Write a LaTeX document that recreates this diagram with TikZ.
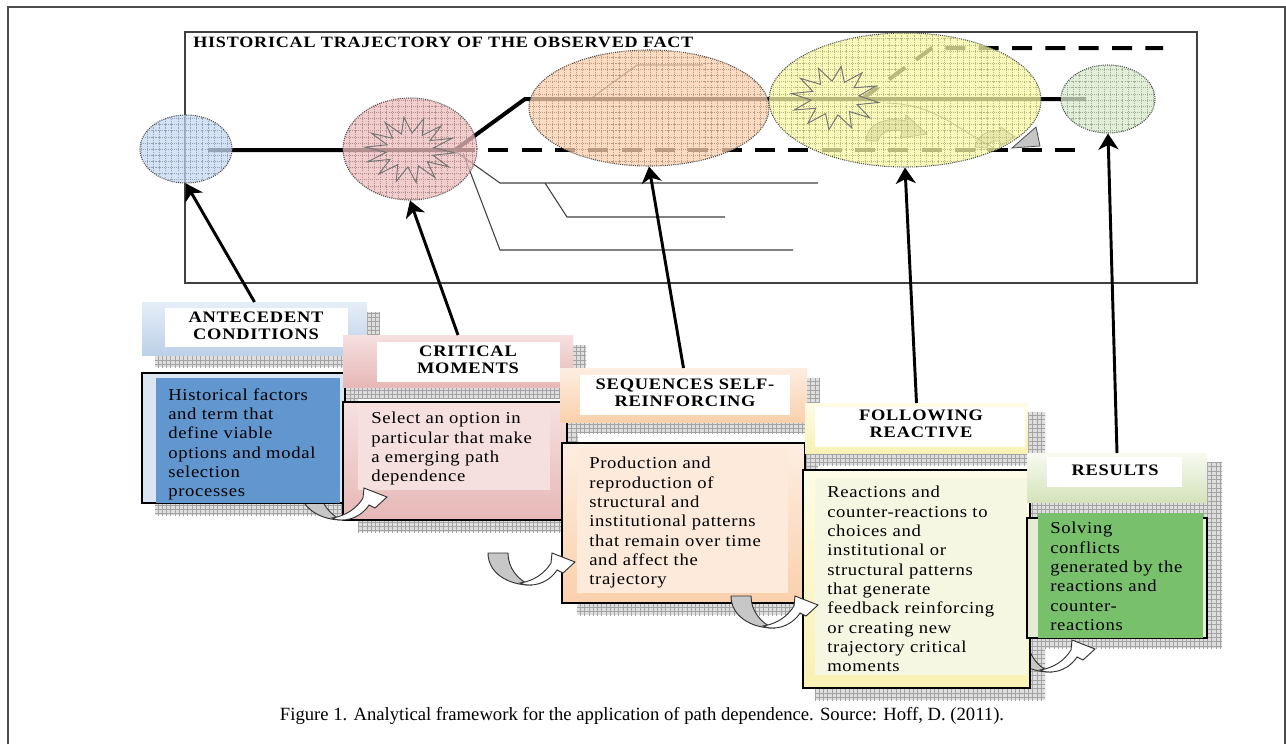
\documentclass[tikz,border=0pt]{standalone}
\usepackage{fontspec}
\setmainfont{Liberation Serif}
\newfontfamily\bodyfont[FakeStretch=1.12,LetterSpace=4]{Liberation Serif}
\newfontfamily\headfont[FakeStretch=1.15,LetterSpace=5]{Liberation Serif}
\usetikzlibrary{patterns,arrows.meta,shapes.geometric}
\pgfdeclarepatternformonly{shadegrid}{\pgfqpoint{-0.5pt}{-0.5pt}}{\pgfqpoint{3.5pt}{3.5pt}}{\pgfqpoint{3.2pt}{3.2pt}}{%
  \pgfsetlinewidth{0.45pt}%
  \pgfpathmoveto{\pgfqpoint{0pt}{0pt}}\pgfpathlineto{\pgfqpoint{3.2pt}{0pt}}%
  \pgfpathmoveto{\pgfqpoint{0pt}{0pt}}\pgfpathlineto{\pgfqpoint{0pt}{3.2pt}}%
  \pgfusepath{stroke}}
\pgfdeclarepatternformonly{ellgrid}{\pgfqpoint{-0.5pt}{-0.5pt}}{\pgfqpoint{5pt}{5pt}}{\pgfqpoint{4.6pt}{4.6pt}}{%
  \pgfsetlinewidth{0.4pt}%
  \pgfpathmoveto{\pgfqpoint{0pt}{0pt}}\pgfpathlineto{\pgfqpoint{4.6pt}{0pt}}%
  \pgfpathmoveto{\pgfqpoint{0pt}{0pt}}\pgfpathlineto{\pgfqpoint{0pt}{4.6pt}}%
  \pgfusepath{stroke}}
\newdimen\pxu \pxu=0.75pt
\definecolor{eblue}{HTML}{C5D9F1}
\definecolor{epink}{HTML}{EDBDBD}
\definecolor{eorange}{HTML}{FAD0AE}
\definecolor{eyellow}{HTML}{F8F8A6}
\definecolor{egreen}{HTML}{D7E9CC}
\definecolor{bluetop}{HTML}{E6EEF8}
\definecolor{bluebot}{HTML}{BCD0E8}
\definecolor{bluemain}{HTML}{DCE6F2}
\definecolor{blueinner}{HTML}{6196CF}
\definecolor{pinktop}{HTML}{F6E0E0}
\definecolor{pinkbot}{HTML}{E6B8B7}
\definecolor{pinkinner}{HTML}{F5DFDF}
\definecolor{orangetop}{HTML}{FDEEE2}
\definecolor{orangebot}{HTML}{FAD0AC}
\definecolor{orangeinner}{HTML}{FDEADB}
\definecolor{yellowtop}{HTML}{FEFCE6}
\definecolor{yellowbot}{HTML}{F9F1B4}
\definecolor{yellowinner}{HTML}{F6F7E3}
\definecolor{greentop}{HTML}{F7FAF1}
\definecolor{greenbot}{HTML}{D5E3BB}
\definecolor{greenmain}{HTML}{E4EDD3}
\definecolor{greeninner}{HTML}{78C06B}
\newcommand{\ugray}[2]{%
  \begin{scope}[shift={(#1,#2)}]
    \filldraw[fill=black!22, draw=black!80, line width=0.7pt]
      (-42,-32) .. controls (-42,-12) and (-22,0) .. (0,0)
      .. controls (-12,-5) and (-22,-17) .. (-22,-32) -- cycle;
  \end{scope}}
\newcommand{\uwhite}[2]{%
  \begin{scope}[shift={(#1,#2)}]
    \filldraw[fill=white, draw=black!80, line width=0.7pt]
      (0,0) .. controls (12,0) and (22,-7) .. (27,-15) -- (33,-12) -- (45,-23)
      -- (22,-32) -- (21,-22) .. controls (15,-12) and (4,-4) .. (-10,-2)
      .. controls (-5,0) and (-3,0) .. (0,0) -- cycle;
  \end{scope}}
\begin{document}
\begin{tikzpicture}[x=0.75pt,y=-0.75pt,
  sz/.style 2 args={minimum width=#1\pxu, minimum height=#2\pxu},
  ell/.style={ellipse, inner sep=0pt, fill=#1, fill opacity=0.75,
    draw=black!70, line width=0.8pt, dash pattern=on 0.8pt off 0.8pt,
    postaction={pattern=ellgrid, pattern color=#1!75!black, fill opacity=0.3}},
  shgrid/.style={fill=black!13, postaction={pattern=shadegrid, pattern color=black!36}},
  boxn/.style={inner sep=0pt, outer sep=0pt, anchor=north west},
  mainb/.style={boxn, draw=black, line width=1.6pt},
  headtext/.style={font=\headfont\bfseries\fontsize{12pt}{12.75pt}\selectfont, align=center, inner sep=0pt},
  bodytext/.style={font=\bodyfont\fontsize{12.5pt}{14.5pt}\selectfont, align=left, inner sep=0pt, anchor=north west},
  bigarrow/.style={line width=2.2pt, -{Stealth[length=12pt, width=15pt, inset=3.5pt]}},
  traj/.style={line width=3pt},
  trajdash/.style={line width=3pt, dash pattern=on 15pt off 10pt},
  thinline/.style={draw=black!75, line width=0.8pt},
  starline/.style={draw=black!55, line width=0.7pt}]
\useasboundingbox (0,0) rectangle (1286,744);
\fill[white] (0,0) rectangle (1286,744);
% outer frame
\draw[black!70, line width=0.9pt] (8,744) -- (8,7) -- (1285,7) -- (1285,744);
% inner frame
\draw[black!75, line width=1.1pt] (185,32) rectangle (1197,283);
\node[anchor=base west, font=\headfont\bfseries\fontsize{11.8pt}{13pt}\selectfont, inner sep=0pt] (title) at (193,47) {HISTORICAL TRAJECTORY OF THE OBSERVED FACT};
% trajectories
\draw[traj] (208,150) -- (455,150) -- (525,99) -- (1086,99);
\draw[trajdash] (455,150) -- (1079,150);
\draw[trajdash] (862,99) -- (932,48) -- (1163,48);
% callout lines
\draw[thinline] (455,151) -- (500,183) -- (818,183);
\draw[thinline] (545,183) -- (567,217) -- (725,217);
\draw[thinline] (463,153) -- (500,250) -- (793,250);
\draw[thinline] (593,97) -- (637,65) -- (703,65);
% items in yellow ellipse
\filldraw[fill=gray!60, draw=black!75, line width=0.6pt] (866,141) .. controls (866,125) and (885,116) .. (905,121) -- (906,115) -- (927,134) -- (900,138) -- (902,131) .. controls (890,128) and (880,132) .. (878,141) -- cycle;
\filldraw[fill=gray!55, draw=black!75, line width=0.6pt] (975,147) .. controls (977,135) and (988,130) .. (1000,131) -- (1001,127) -- (1015,137) -- (1000,146) -- (1000,141) .. controls (993,140) and (988,143) .. (987,148) -- cycle;
\filldraw[fill=gray!45, draw=black!70, line width=0.6pt] (1012,148) -- (1036,127) -- (1040,146) -- cycle;
\draw[thinline, line width=0.6pt] (886,103) .. controls (935,104) and (955,128) .. (994,148);
% ellipses
\node[ell=eblue, sz={92}{68}] (e1) at (186,149) {};
\node[ell=epink, sz={134}{102}] (e2) at (410,149) {};
\node[ell=eorange, sz={240}{116}] (e3) at (649,108) {};
\node[ell=eyellow, sz={272}{134}] (e4) at (905,100) {};
\node[ell=egreen, sz={94}{68}] (e5) at (1108,99) {};
% stars
\draw[starline] plot[samples=29, domain=0:28, variable=\k]
  ({410+(45*(1-mod(round(\k),2))+24*mod(round(\k),2))*cos(\k*360/28+5)},
   {150+(33*(1-mod(round(\k),2))+17*mod(round(\k),2))*sin(\k*360/28+5)}) -- cycle;
\draw[starline] plot[samples=25, domain=0:24, variable=\k]
  ({835+(44*(1-mod(round(\k),2))+24*mod(round(\k),2))*cos(\k*360/24+8)},
   {98+(32*(1-mod(round(\k),2))+17*mod(round(\k),2))*sin(\k*360/24+8)}) -- cycle;
% ---------- stage 1
\fill[shgrid] (155,312) rectangle (380,367);
\node[boxn, sz={225}{53}, top color=bluetop, bottom color=bluebot] (tb1) at (142,302) {};
\node[boxn, sz={183}{39}, fill=white] (tw1) at (165,308) {};
\node[headtext, anchor=north] (th1) at (256,312) {ANTECEDENT\\CONDITIONS};
\fill[shgrid] (155,385) rectangle (358,515);
\node[mainb, sz={203}{130}, fill=bluemain] (mb1) at (142,373) {};
\node[boxn, sz={184}{125}, fill=blueinner] (ib1) at (156,378) {};
\node[bodytext] (tx1) at (168,388) {Historical factors\\and term that\\define viable\\options and modal\\selection\\processes};
% ---------- stage 2
\fill[shgrid] (355,345) rectangle (586,398);
\node[boxn, sz={230}{52}, top color=pinktop, bottom color=pinkbot] (tb2) at (343,335) {};
\node[boxn, sz={183}{40}, fill=white] (tw2) at (377,342) {};
\node[headtext, anchor=north] (th2) at (468,346) {CRITICAL\\MOMENTS};
\fill[shgrid] (358,412) rectangle (578,532);
\node[mainb, sz={224}{118}, top color=pinktop, bottom color=pinkbot] (mb2) at (343,402) {};
\node[boxn, sz={192}{85}, fill=pinkinner] (ib2) at (358,405) {};
\node[bodytext] (tx2) at (371,412) {Select an option in\\particular that make\\a emerging path\\dependence};
% curved arrow 1
\begin{scope}
  \clip (250,504) rectangle (400,560);
  \ugray{342}{520}
\end{scope}
\uwhite{342}{520}
% ---------- stage 3
\fill[shgrid] (570,378) rectangle (820,433);
\node[boxn, sz={247}{54}, top color=orangetop, bottom color=orangebot] (tb3) at (560,368) {};
\node[boxn, sz={210}{40}, fill=white] (tw3) at (580,375) {};
\node[headtext, anchor=north] (th3) at (685,379) {SEQUENCES SELF-\\REINFORCING};
\fill[shgrid] (577,453) rectangle (818,615);
\node[mainb, sz={243}{160}, top color=orangetop, bottom color=orangebot] (mb3) at (562,443) {};
\node[boxn, sz={211}{145}, fill=orangeinner] (ib3) at (577,448) {};
\node[bodytext] (tx3) at (589,457) {Production and\\reproduction of\\structural and\\institutional patterns\\that remain over time\\and affect the\\trajectory};
% curved arrow 2
\ugray{530}{585}
\uwhite{530}{585}
% ---------- stage 4
\fill[shgrid] (815,412) rectangle (1045,465);
\node[boxn, sz={223}{50}, top color=yellowtop, bottom color=yellowbot] (tb4) at (805,403) {};
\node[boxn, sz={210}{40}, fill=white] (tw4) at (815,407) {};
\node[headtext, anchor=north] (th4) at (921,410) {FOLLOWING\\REACTIVE};
\fill[shgrid] (815,480) rectangle (1045,700);
\node[mainb, sz={227}{218}, top color=yellowtop, bottom color=yellowbot] (mb4) at (803,470) {};
\node[boxn, sz={212}{197}, fill=yellowinner] (ib4) at (815,478) {};
\node[bodytext] (tx4) at (827,486) {Reactions and\\counter-reactions to\\choices and\\institutional or\\structural patterns\\that generate\\feedback reinforcing\\or creating new\\trajectory critical\\moments};
% curved arrow 3
\ugray{773}{628}
\uwhite{773}{628}
% ---------- stage 5
\fill[shgrid] (1040,462) rectangle (1222,648);
\node[boxn, sz={180}{49}, top color=greentop, bottom color=greenbot] (tb5) at (1027,453) {};
\node[boxn, sz={135}{30}, fill=white] (tw5) at (1047,457) {};
\node[headtext] (th5) at (1115,470.5) {RESULTS};
\node[mainb, sz={180}{120}, fill=greenmain] (mb5) at (1027,518) {};
\node[boxn, sz={165}{125}, fill=greeninner] (ib5) at (1038,513) {};
\node[bodytext] (tx5) at (1050,522) {Solving\\conflicts\\generated by the\\reactions and\\counter-\\reactions};
% curved arrow 4
\begin{scope}
  \clip (1031,600) rectangle (1110,700);
  \ugray{1050}{672}
\end{scope}
\uwhite{1050}{672}
% ---------- connectors
\draw[bigarrow] (tb1.north) -- (e1.south);
\draw[bigarrow] (tb2.north) -- (e2.south);
\draw[bigarrow] (tb3.north) -- (e3.south);
\draw[bigarrow] (tb4.north) -- (e4.south);
\draw[bigarrow] (tb5.north) -- (e5.south);
% caption
\node[anchor=base, font=\fontsize{14pt}{16pt}\selectfont, inner sep=0pt] (cap) at (642,720) {Figure 1. Analytical framework for the application of path dependence. Source: Hoff, D. (2011).};
\end{tikzpicture}
\end{document}
